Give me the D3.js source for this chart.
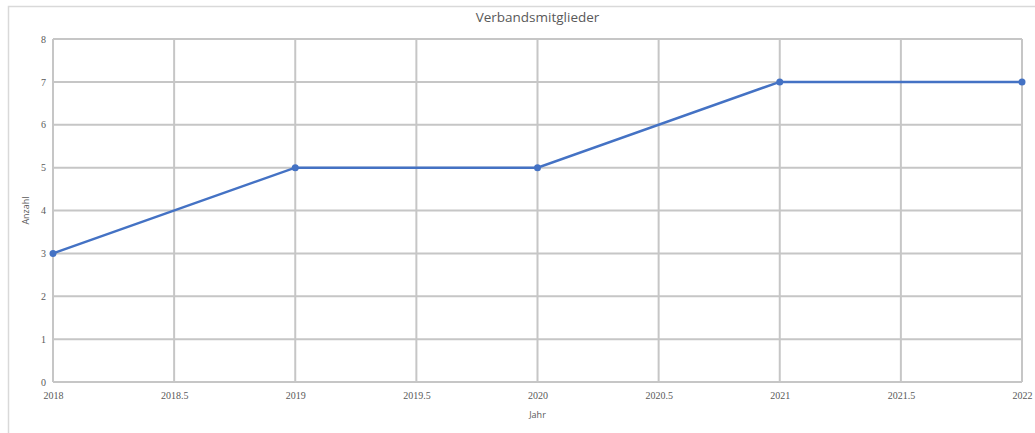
<!DOCTYPE html>
<html>
<head>
<meta charset="utf-8">
<script src="https://cdn.jsdelivr.net/npm/d3@7"></script>
<style>
  body { margin: 0; background: #fff; }
  svg { display: block; }
</style>
</head>
<body>
<div id="chart"></div>
<script>
const years = [2018, 2019, 2020, 2021, 2022];
const members = [3, 5, 5, 7, 7];
const xTicks = [2018, 2018.5, 2019, 2019.5, 2020, 2020.5, 2021, 2021.5, 2022];
const yTicks = [0, 1, 2, 3, 4, 5, 6, 7, 8];

const W = 1035, H = 433;
const margin = { top: 39, right: 13, bottom: 51, left: 53 };
const width = W - margin.left - margin.right;
const height = H - margin.top - margin.bottom;

const svg = d3.select("#chart").append("svg")
    .attr("width", W)
    .attr("height", H);

// outer chart frame
svg.append("path")
    .attr("d", `M8.5,${H} V6.5 H${W}`)
    .attr("fill", "none")
    .attr("stroke", "#d9d9d9")
    .attr("stroke-width", 1.5);

svg.append("text")
    .attr("x", margin.left + width / 2)
    .attr("y", 22)
    .attr("text-anchor", "middle")
    .attr("font-family", "'Open Sans', 'DejaVu Sans', sans-serif")
    .attr("font-size", 13.5)
    .attr("fill", "#595959")
    .text("Verbandsmitglieder");

const g = svg.append("g")
    .attr("transform", `translate(${margin.left},${margin.top})`);

const x = d3.scaleLinear().domain([2018, 2022]).range([0, width]);
const y = d3.scaleLinear().domain([0, 8]).range([height, 0]);

// grid
g.append("g").selectAll("line").data(xTicks).join("line")
    .attr("x1", d => x(d)).attr("x2", d => x(d))
    .attr("y1", 0).attr("y2", height)
    .attr("stroke", "#c6c6c6").attr("stroke-width", 2);
g.append("g").selectAll("line").data(yTicks).join("line")
    .attr("x1", 0).attr("x2", width)
    .attr("y1", d => y(d)).attr("y2", d => y(d))
    .attr("stroke", "#c6c6c6").attr("stroke-width", 2);

const tickFont = "'Liberation Serif', 'DejaVu Serif', serif";

const xAxis = g.append("g")
    .attr("transform", `translate(0,${height})`)
    .call(d3.axisBottom(x).tickValues(xTicks).tickSize(0).tickPadding(10)
        .tickFormat(d => String(d)));
const yAxis = g.append("g")
    .call(d3.axisLeft(y).tickValues(yTicks).tickSize(0).tickPadding(7));

[xAxis, yAxis].forEach(a => {
    a.select(".domain").remove();
    a.selectAll("text")
        .attr("font-family", tickFont)
        .attr("font-size", 10)
        .attr("fill", "#595959");
});

// axis titles
svg.append("text")
    .attr("x", margin.left + width / 2)
    .attr("y", 418)
    .attr("text-anchor", "middle")
    .attr("font-family", "'Open Sans', 'DejaVu Sans', sans-serif")
    .attr("font-size", 9)
    .attr("fill", "#595959")
    .text("Jahr");
svg.append("text")
    .attr("transform", `translate(29,${margin.top + height / 2}) rotate(-90)`)
    .attr("text-anchor", "middle")
    .attr("font-family", "'Open Sans', 'DejaVu Sans', sans-serif")
    .attr("font-size", 9)
    .attr("fill", "#595959")
    .text("Anzahl");

const data = years.map((yr, i) => ({ year: yr, value: members[i] }));

g.append("path")
    .datum(data)
    .attr("fill", "none")
    .attr("stroke", "#4472c4")
    .attr("stroke-width", 2.5)
    .attr("d", d3.line().x(d => x(d.year)).y(d => y(d.value)));

g.selectAll("circle").data(data).join("circle")
    .attr("cx", d => x(d.year))
    .attr("cy", d => y(d.value))
    .attr("r", 3.5)
    .attr("fill", "#4472c4");
</script>
</body>
</html>
